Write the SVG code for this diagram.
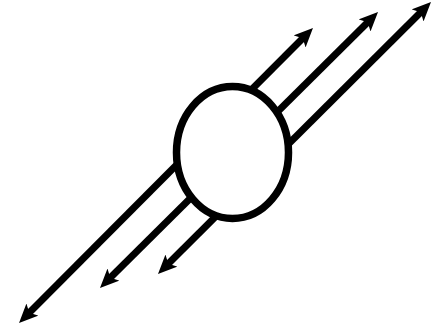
<svg xmlns="http://www.w3.org/2000/svg" width="437" height="327" viewBox="0 0 437 327">
<style>
.conn{stroke:#000;stroke-width:7;fill:none;marker-start:url(#ah);marker-end:url(#ah)}
.node{fill:#fff;stroke:#000;stroke-width:7.5}
</style>
<defs>
<marker id="ah" markerUnits="userSpaceOnUse" viewBox="0 0 19 18" markerWidth="19" markerHeight="18" refX="7" refY="9" orient="auto-start-reverse">
<path d="M0,0.5 L19,9 L0,17.5 L4.5,9 Z" fill="#000"/>
</marker>
</defs>
<rect width="437" height="327" fill="#fff"/>
<g id="connectors">
<line class="conn" x1="27.5" y1="314.5" x2="304.5" y2="36.5"/>
<line class="conn" x1="108.5" y1="279.5" x2="369.5" y2="20.5"/>
<line class="conn" x1="166.5" y1="265.5" x2="422.5" y2="10.5"/>
</g>
<g id="node">
<ellipse class="node" cx="232.5" cy="152.5" rx="56" ry="66"/>
</g>
</svg>
